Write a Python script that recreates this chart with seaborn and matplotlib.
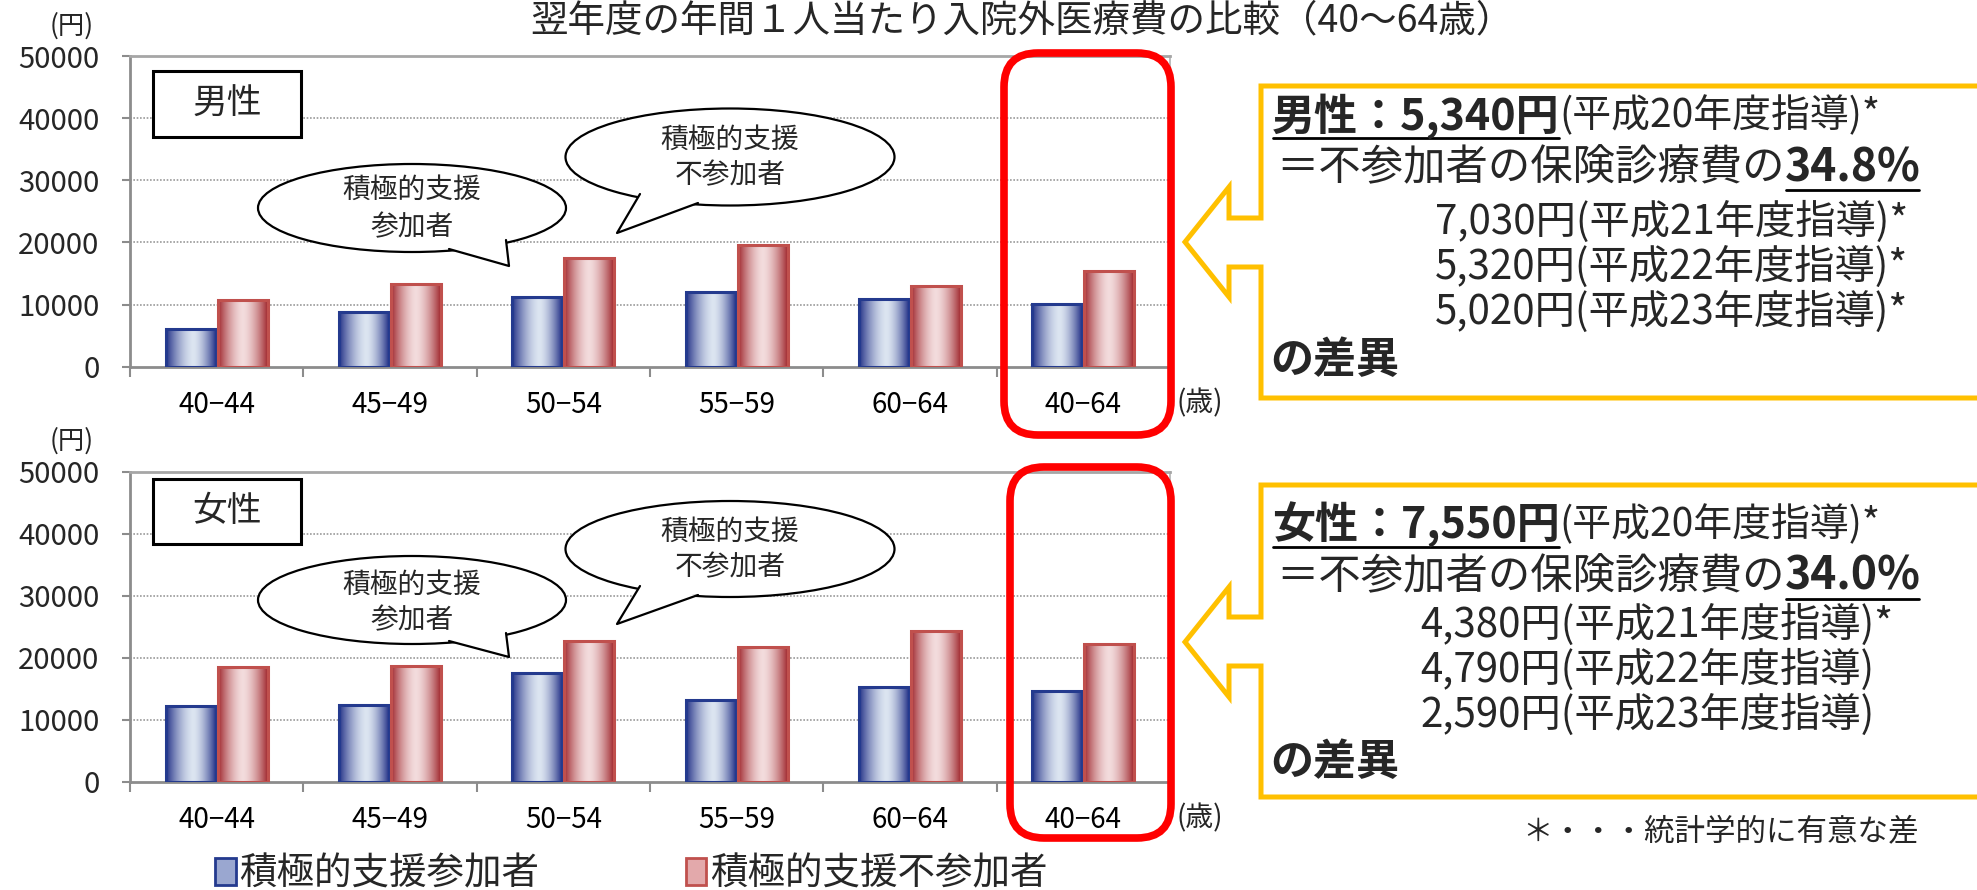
import numpy as np
import pandas as pd
import matplotlib
matplotlib.use("Agg")
import matplotlib.pyplot as plt
import seaborn as sns
from matplotlib.patches import Ellipse, Polygon, FancyBboxPatch, Rectangle, Patch
from matplotlib.colors import to_rgb

# ---- data -------------------------------------------------------------
age_groups = ["40−44", "45−49", "50−54", "55−59", "60−64", "40−64"]
series_names = ["積極的支援参加者", "積極的支援不参加者"]
male_participant = [6100, 8850, 11250, 12070, 10940, 10010]
male_nonparticipant = [10680, 13360, 17440, 19580, 12980, 15350]
female_participant = [12260, 12370, 17580, 13230, 15220, 14660]
female_nonparticipant = [18550, 18710, 22740, 21770, 24350, 22210]
y_ticks = [0, 10000, 20000, 30000, 40000, 50000]

title = "翌年度の年間１人当たり入院外医療費の比較（40～64歳）"
panel_labels = ["男性", "女性"]

# ---- style ------------------------------------------------------------
sns.set_theme(style="white")
plt.rcParams["font.family"] = ["Noto Sans CJK JP", "DejaVu Sans"]

BLUE_DARK, BLUE_LIGHT, BLUE_EDGE = "#243288", "#dce5f1", "#243a8e"
RED_DARK, RED_LIGHT, RED_EDGE = "#a0282e", "#f3dcdd", "#c0504d"
AXIS_GRAY = "#8c8c8c"
GOLD = "#ffc000"

W, H = 1977, 890
fig = plt.figure(figsize=(W / 100, H / 100), dpi=100)


def frac_box(left, top, right, bottom):
    return [left / W, 1 - bottom / H, (right - left) / W, (bottom - top) / H]


def shade_bars(ax, container, dark, light, edge, peak):
    """Replace the flat fill of each bar with a horizontal cylinder shading."""
    d = np.array(to_rgb(dark))
    lt = np.array(to_rgb(light))
    t = np.linspace(0, 1, 200)
    span = np.where(t < peak, peak, 1 - peak)
    f = np.clip(1 - np.abs((t - peak) / span) ** 1.6, 0, 1)
    img = (d + (lt - d) * f[:, None])[None, :, :]
    for bar in container:
        x, y = bar.get_x(), bar.get_y()
        w, h = bar.get_width(), bar.get_height()
        ax.imshow(img, extent=[x, x + w, y, y + h], aspect="auto",
                  origin="lower", zorder=2, interpolation="bilinear")
        bar.set_facecolor("none")
        bar.set_edgecolor(edge)
        bar.set_linewidth(2.2)
        bar.set_zorder(3)


def draw_panel(ax, participant, nonparticipant):
    df = pd.DataFrame({
        "age": age_groups * 2,
        "group": [series_names[0]] * len(age_groups) + [series_names[1]] * len(age_groups),
        "cost": participant + nonparticipant,
    })
    sns.barplot(data=df, x="age", y="cost", hue="group", order=age_groups,
                hue_order=series_names, palette=[BLUE_LIGHT, RED_LIGHT],
                width=0.6, gap=0.04, legend=False, errorbar=None, ax=ax)
    shade_bars(ax, ax.containers[0], BLUE_DARK, BLUE_LIGHT, BLUE_EDGE, 0.55)
    shade_bars(ax, ax.containers[1], RED_DARK, RED_LIGHT, RED_EDGE, 0.5)

    ax.set_xlim(-0.5, len(age_groups) - 0.5)
    ax.set_ylim(0, 50000)
    ax.set_yticks(y_ticks)
    ax.set_yticklabels([str(v) for v in y_ticks])
    ax.set_xlabel("")
    ax.set_ylabel("")
    for v in y_ticks[1:-1]:
        ax.axhline(v, color="#9a9a9a", lw=1.2, ls=(0, (1, 1)), zorder=1)
    ax.set_xticks(np.arange(-0.5, len(age_groups), 1), minor=True)
    ax.tick_params(axis="x", which="major", length=0, pad=17, labelsize=20,
                   colors="black")
    ax.tick_params(axis="x", which="minor", length=7, width=1.5,
                   color=AXIS_GRAY, direction="out", bottom=True)
    ax.tick_params(axis="y", length=6, width=1.5, color=AXIS_GRAY,
                   direction="out", left=True, pad=16, labelsize=21)
    for side, lw, col in [("left", 2, AXIS_GRAY), ("bottom", 2, AXIS_GRAY),
                          ("top", 2, "#a6a6a6"), ("right", 1.2, "#b0b0b0")]:
        ax.spines[side].set_visible(True)
        ax.spines[side].set_linewidth(lw)
        ax.spines[side].set_color(col)
    ax.set_facecolor("white")


ax_m = fig.add_axes(frac_box(130, 56, 1170, 366.7))
draw_panel(ax_m, male_participant, male_nonparticipant)
ax_f = fig.add_axes(frac_box(130, 471.7, 1170, 781.7))
draw_panel(ax_f, female_participant, female_nonparticipant)

# ---- overlay in pixel units for the annotations ----------------------
ov = fig.add_axes([0, 0, 1, 1], zorder=10)
ov.set_xlim(0, W)
ov.set_ylim(H, 0)
ov.axis("off")
ov.patch.set_alpha(0)

ov.text(1022, 31, title, fontsize=27, ha="center", va="baseline")

for yc in (26, 441):
    ov.text(72, yc, "(円)", fontsize=19, ha="center", va="center")
for yc in (403, 818):
    ov.text(1200, yc, "(歳)", fontsize=20, ha="center", va="center")

# panel name boxes
for (top, bot), label in zip([(71, 137), (479, 544)], panel_labels):
    ov.add_patch(Rectangle((153, top), 148, bot - top, fc="white", ec="black",
                           lw=2.2))
    ov.text(227, (top + bot) / 2, label, fontsize=25, ha="center", va="center")


def bubble(cx, cy, w, h, base1, base2, tip, lines, line_ys):
    ov.add_patch(Ellipse((cx, cy), w, h, fc="white", ec="black", lw=1.6))
    ov.add_patch(Polygon([base1, tip, base2], closed=True, fc="white",
                         ec="none", zorder=3))
    ov.plot([base1[0], tip[0], base2[0]], [base1[1], tip[1], base2[1]],
            color="black", lw=1.6, zorder=4)
    for s, yy in zip(lines, line_ys):
        ov.text(cx, yy, s, fontsize=20, ha="center", va="center", zorder=5)


bubble(412, 208, 308, 88, (449, 249), (506, 240), (509, 266),
       ["積極的支援", "参加者"], [190, 227])
bubble(730, 157, 329, 97, (640, 194), (698, 203), (617, 233),
       ["積極的支援", "不参加者"], [140, 175])
bubble(412, 600, 308, 88, (449, 641), (506, 633), (509, 657),
       ["積極的支援", "参加者"], [585, 620])
bubble(730, 549, 329, 96, (640, 586), (698, 595), (617, 624),
       ["積極的支援", "不参加者"], [532, 567])

# red highlight frames around the overall 40-64 group
for x0, y0, x1, y1 in [(1004, 53, 1171, 435), (1010, 467, 1171, 838)]:
    ov.add_patch(FancyBboxPatch((x0, y0), x1 - x0, y1 - y0,
                                boxstyle="round,pad=0,rounding_size=34",
                                fc="none", ec="#ff0000", lw=5.5))


# yellow callout boxes pointing left
def callout(top, bot, n1, n2, h1, h2, tipy):
    pts = [(W + 20, top), (1261, top), (1261, n1), (1229, n1), (1229, h1),
           (1185, tipy), (1229, h2), (1229, n2), (1261, n2), (1261, bot),
           (W + 20, bot)]
    ov.add_patch(Polygon(pts, closed=True, fc="white", ec=GOLD, lw=3.6,
                         clip_on=False))


callout(86, 398, 218, 267, 187, 297, 242)
callout(485, 797, 617, 666, 587, 697, 642)

renderer = fig.canvas.get_renderer()


def text_run(x, y, parts):
    for s, size, bold, underline in parts:
        t = ov.text(x, y, s, fontsize=size,
                    fontweight="bold" if bold else "normal",
                    ha="left", va="center")
        w = t.get_window_extent(renderer=renderer).width
        if underline:
            ov.plot([x + 1, x + w - 1], [y + 22, y + 22], color="black", lw=2)
        x += w


text_run(1272, 116, [("男性：5,340円", 31, True, True), ("(平成20年度指導)*", 28, False, False)])
text_run(1276, 168, [("＝不参加者の保険診療費の", 30.5, False, False), ("34.8%", 32, True, True)])
text_run(1435, 222, [("7,030円(平成21年度指導)*", 29, False, False)])
text_run(1435, 267, [("5,320円(平成22年度指導)*", 29, False, False)])
text_run(1435, 312, [("5,020円(平成23年度指導)*", 29, False, False)])
text_run(1270, 360, [("の差異", 31, True, False)])

text_run(1272, 525, [("女性：7,550円", 31, True, True), ("(平成20年度指導)*", 28, False, False)])
text_run(1276, 577, [("＝不参加者の保険診療費の", 30.5, False, False), ("34.0%", 32, True, True)])
text_run(1420, 625, [("4,380円(平成21年度指導)*", 29, False, False)])
text_run(1420, 670, [("4,790円(平成22年度指導)", 29, False, False)])
text_run(1420, 715, [("2,590円(平成23年度指導)", 29, False, False)])
text_run(1270, 762, [("の差異", 31, True, False)])

ov.text(1522, 833, "＊・・・統計学的に有意な差", fontsize=22, ha="left", va="center")

# legend
handles = [Patch(facecolor="#9aa7d0", edgecolor=BLUE_EDGE, lw=2),
           Patch(facecolor="#e3a9ab", edgecolor=RED_EDGE, lw=2)]
fig.legend(handles, series_names, loc="center left",
           bbox_to_anchor=(215 / W, 1 - 874 / H), ncol=2, frameon=False,
           fontsize=27, handlelength=0.55, handleheight=0.7,
           handletextpad=0.1, columnspacing=3.9, borderpad=0,
           borderaxespad=0)

fig.savefig("out.png", dpi=100, facecolor="white")
